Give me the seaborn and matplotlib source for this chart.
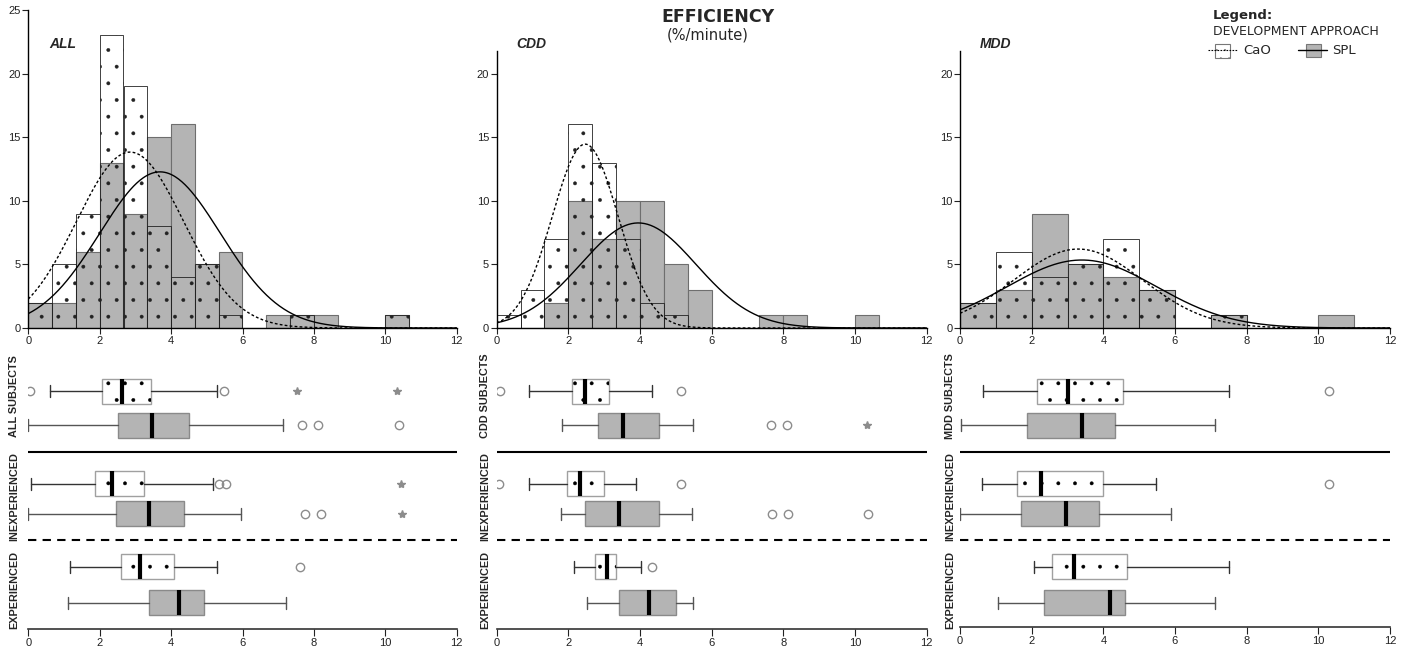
import numpy as np
import pandas as pd
import matplotlib
matplotlib.use("Agg")
import matplotlib.pyplot as plt
import seaborn as sns
from matplotlib.lines import Line2D
from matplotlib.patches import Rectangle, PathPatch

# --- histogram counts (efficiency %/minute), bins start at 0 ---
bw_all = 2 / 3
all_cao = [2, 5, 9, 23, 19, 8, 4, 5, 1, 0, 0, 1, 0, 0, 0, 1]
all_spl = [2, 2, 6, 13, 9, 15, 16, 5, 6, 0, 1, 1, 1, 0, 0, 1]
bw_cdd = 2 / 3
cdd_cao = [1, 3, 7, 16, 13, 7, 2, 1, 0, 0, 0, 0, 0, 0, 0, 0]
cdd_spl = [0, 0, 2, 10, 7, 10, 10, 5, 3, 0, 0, 1, 1, 0, 0, 1]
bw_mdd = 1
mdd_cao = [2, 6, 4, 5, 7, 3, 0, 1, 0, 0, 0]
mdd_spl = [2, 3, 9, 5, 4, 3, 0, 1, 0, 0, 1]

# normal curve fits (mean, sd)
all_fit = [(2.85, 1.50), (3.69, 1.69)]
cdd_fit = [(2.47, 0.92), (3.95, 1.61)]
mdd_fit = [(3.30, 1.80), (3.40, 2.09)]

# --- boxplot stats, rows: subjects CaO, SPL, inexp CaO, SPL, exp CaO, SPL ---
all_lo = [0.61, 0.00, 0.07, 0.00, 1.17, 1.10]
all_q1 = [2.07, 2.52, 1.88, 2.47, 2.61, 3.38]
all_med = [2.63, 3.46, 2.35, 3.37, 3.13, 4.23]
all_q3 = [3.43, 4.51, 3.23, 4.37, 4.08, 4.92]
all_hi = [5.29, 7.14, 5.18, 5.97, 5.29, 7.22]
all_out = [[0.05, 5.49], [7.68, 8.12, 10.38], [5.34, 5.55], [7.74, 8.20], [7.61], []]
all_ext = [[7.52, 10.34], [], [10.44], [10.48], [], []]

cdd_lo = [0.91, 1.81, 0.89, 1.80, 2.17, 2.53]
cdd_q1 = [2.09, 2.84, 1.95, 2.47, 2.73, 3.40]
cdd_med = [2.47, 3.53, 2.33, 3.40, 3.09, 4.25]
cdd_q3 = [3.13, 4.54, 3.00, 4.52, 3.33, 5.00]
cdd_hi = [4.34, 5.47, 3.89, 5.45, 4.04, 5.48]
cdd_out = [[0.09, 5.13], [7.66, 8.09], [0.07, 5.13], [7.67, 8.12, 10.37], [4.33], []]
cdd_ext = [[], [10.33], [], [], [], []]

mdd_lo = [0.63, 0.02, 0.61, 0.00, 2.07, 1.07]
mdd_q1 = [2.14, 1.88, 1.60, 1.69, 2.57, 2.35]
mdd_med = [3.00, 3.41, 2.26, 2.97, 3.18, 4.19]
mdd_q3 = [4.56, 4.33, 4.00, 3.89, 4.67, 4.61]
mdd_hi = [7.51, 7.13, 5.47, 5.88, 7.51, 7.13]
mdd_out = [[10.30], [], [10.31], [], [], []]
mdd_ext = [[], [], [], [], [], []]

panel_names = ["ALL", "CDD", "MDD"]
row_labels = [["ALL SUBJECTS", "INEXPERIENCED", "EXPERIENCED"],
              ["CDD SUBJECTS", "INEXPERIENCED", "EXPERIENCED"],
              ["MDD SUBJECTS", "INEXPERIENCED", "EXPERIENCED"]]

sns.set_theme(style="white")
plt.rcParams["font.family"] = ["Liberation Sans", "DejaVu Sans"]
plt.rcParams["hatch.linewidth"] = 0.3

W, H = 1411, 652
fig = plt.figure(figsize=(W / 100, H / 100), dpi=100)


def add_ax(x0, y0, x1, y1):
    return fig.add_axes([x0 / W, 1 - y1 / H, (x1 - x0) / W, (y1 - y0) / H])


GRAY = "#b4b4b4"

hist_data = [(bw_all, all_cao, all_spl, all_fit, 25),
             (bw_cdd, cdd_cao, cdd_spl, cdd_fit, 21.8),
             (bw_mdd, mdd_cao, mdd_spl, mdd_fit, 21.8)]
hist_x = [(28.3, 456.7), (496.7, 926.7), (960, 1390)]
box_data = [(all_lo, all_q1, all_med, all_q3, all_hi, all_out, all_ext),
            (cdd_lo, cdd_q1, cdd_med, cdd_q3, cdd_hi, cdd_out, cdd_ext),
            (mdd_lo, mdd_q1, mdd_med, mdd_q3, mdd_hi, mdd_out, mdd_ext)]
label_x = [14, 485, 950]
label_name_x = [49, 516, 980]

xs = np.linspace(0, 12, 400)

for i in range(3):
    bw, cao, spl, fit, ytop = hist_data[i]
    x0, x1 = hist_x[i]
    ax = add_ax(x0, 328 - ytop * 12.72, x1, 328)
    edges = [k * bw for k in range(len(cao) + 1)]
    df = pd.DataFrame({"x": [e + bw / 2 for e in edges[:-1]], "spl": spl, "cao": cao})
    sns.histplot(data=df, x="x", weights="spl", bins=edges, ax=ax, color=GRAY,
                 edgecolor="#6e6e6e", linewidth=0.8, alpha=1)
    sns.histplot(data=df, x="x", weights="cao", bins=edges, ax=ax, fill=False,
                 color="#222222", linewidth=0.6, hatch=".")
    n = sum(cao)
    for (m, s), ls in zip(fit, [(0, (2, 1.6)), "-"]):
        ys = n * bw / (s * np.sqrt(2 * np.pi)) * np.exp(-0.5 * ((xs - m) / s) ** 2)
        ax.plot(xs, ys, color="black", linewidth=1.0, linestyle=ls)
    ax.set_xlim(0, 12)
    ax.set_ylim(0, ytop)
    ax.set_xticks(range(0, 13, 2))
    ax.set_yticks(range(0, int(ytop) + 1, 5))
    ax.set_xlabel("")
    ax.set_ylabel("")
    for sp in ["top", "right"]:
        ax.spines[sp].set_visible(False)
    for sp in ["left", "bottom"]:
        ax.spines[sp].set_color("black")
        ax.spines[sp].set_linewidth(1.0)
    ax.tick_params(axis="both", direction="out", length=4, width=0.8,
                   labelsize=8, colors="#222222", pad=1.5, left=True, bottom=True)
    ax.patch.set_alpha(0)
    fig.text(label_name_x[i] / W, 1 - 44 / H, panel_names[i], fontsize=10,
             fontweight="bold", fontstyle="italic", va="center", ha="left")

    # boxplots
    lo, q1, med, q3, hi, out, ext = box_data[i]
    bottom = 629.3 if i < 2 else 627
    bax = add_ax(x0, 348, x1, bottom)
    pos = [391.3, 425, 483.7, 513.5, 566.5, 602.5]
    for k, style in enumerate(["cao", "spl"]):
        rows = range(k, 6, 2)
        stats = [dict(med=med[r], q1=q1[r], q3=q3[r], whislo=lo[r],
                      whishi=hi[r], fliers=out[r]) for r in rows]
        if style == "cao":
            boxprops = dict(facecolor="white", edgecolor="#a0a0a0", linewidth=1.0)
            wcol = "#333333"
        else:
            boxprops = dict(facecolor=GRAY, edgecolor="#8a8a8a", linewidth=1.0)
            wcol = "#555555"
        res = bax.bxp(stats, positions=[pos[r] for r in rows], widths=25,
                      orientation="horizontal", patch_artist=True, capwidths=12,
                      boxprops=boxprops,
                      whiskerprops=dict(color=wcol, linewidth=1.0),
                      capprops=dict(color=wcol, linewidth=1.0),
                      medianprops=dict(color="black", linewidth=3),
                      flierprops=dict(marker="o", markerfacecolor="none",
                                      markeredgecolor="#8c8c8c", markersize=6,
                                      markeredgewidth=1.0))
        if style == "cao":
            for b in res["boxes"]:
                bax.add_patch(PathPatch(b.get_path(), facecolor="none",
                                        edgecolor="black", linewidth=0,
                                        hatch=".", zorder=2.05))
        for r in rows:
            if ext[r]:
                bax.plot(ext[r], [pos[r]] * len(ext[r]), linestyle="none",
                         marker="*", color="#8c8c8c", markersize=6)
    bax.axhline(452.3, color="black", linewidth=1.5)
    bax.axhline(540.3, color="black", linewidth=1.5, linestyle=(0, (4, 3)))
    bax.set_xlim(0, 12)
    bax.set_ylim(bottom, 348)
    bax.set_xticks(range(0, 13, 2))
    bax.set_yticks([])
    for sp in ["top", "right", "left"]:
        bax.spines[sp].set_visible(False)
    bax.spines["bottom"].set_color("#333333")
    bax.spines["bottom"].set_linewidth(1.2)
    bax.tick_params(axis="x", direction="out", length=5, width=0.8,
                    labelsize=8, colors="#222222", pad=1.5, bottom=True)
    bax.patch.set_alpha(0)
    for lab, yc in zip(row_labels[i], [396, 497, 590]):
        fig.text(label_x[i] / W, 1 - yc / H, lab, rotation=90, fontsize=7.8,
                 fontweight="bold", ha="center", va="center")

# title
fig.text(718 / W, 1 - 17 / H, "EFFICIENCY", family="DejaVu Sans", fontsize=12.5,
         fontweight="bold", ha="center", va="center")
fig.text(708 / W, 1 - 35 / H, "(%/minute)", family="DejaVu Sans", fontsize=10.5,
         ha="center", va="center")

# legend
fig.text(1213 / W, 1 - 15 / H, "Legend:", family="DejaVu Sans", fontsize=9.5,
         fontweight="bold", ha="left", va="center")
fig.text(1213 / W, 1 - 31.5 / H, "DEVELOPMENT APPROACH", family="DejaVu Sans",
         fontsize=9, ha="left", va="center")
fig.add_artist(Line2D([1208 / W, 1237 / W], [1 - 50 / H, 1 - 50 / H], color="black",
                      linewidth=0.8, linestyle=(0, (1.5, 1.2)), transform=fig.transFigure))
fig.add_artist(Rectangle((1215 / W, 1 - 58 / H), 15 / W, 14 / H, facecolor="white",
                         edgecolor="#777777", linewidth=0.8, hatch="..",
                         transform=fig.transFigure))
fig.add_artist(Line2D([1298 / W, 1327 / W], [1 - 50 / H, 1 - 50 / H], color="black",
                      linewidth=1.0, transform=fig.transFigure))
fig.add_artist(Rectangle((1306 / W, 1 - 57 / H), 15 / W, 13 / H, facecolor=GRAY,
                         edgecolor="#777777", linewidth=0.8, transform=fig.transFigure))
fig.text(1243 / W, 1 - 50 / H, "CaO", family="DejaVu Sans", fontsize=9.5,
         ha="left", va="center")
fig.text(1332 / W, 1 - 50 / H, "SPL", family="DejaVu Sans", fontsize=9.5,
         ha="left", va="center")

fig.savefig("out.png", dpi=100)
